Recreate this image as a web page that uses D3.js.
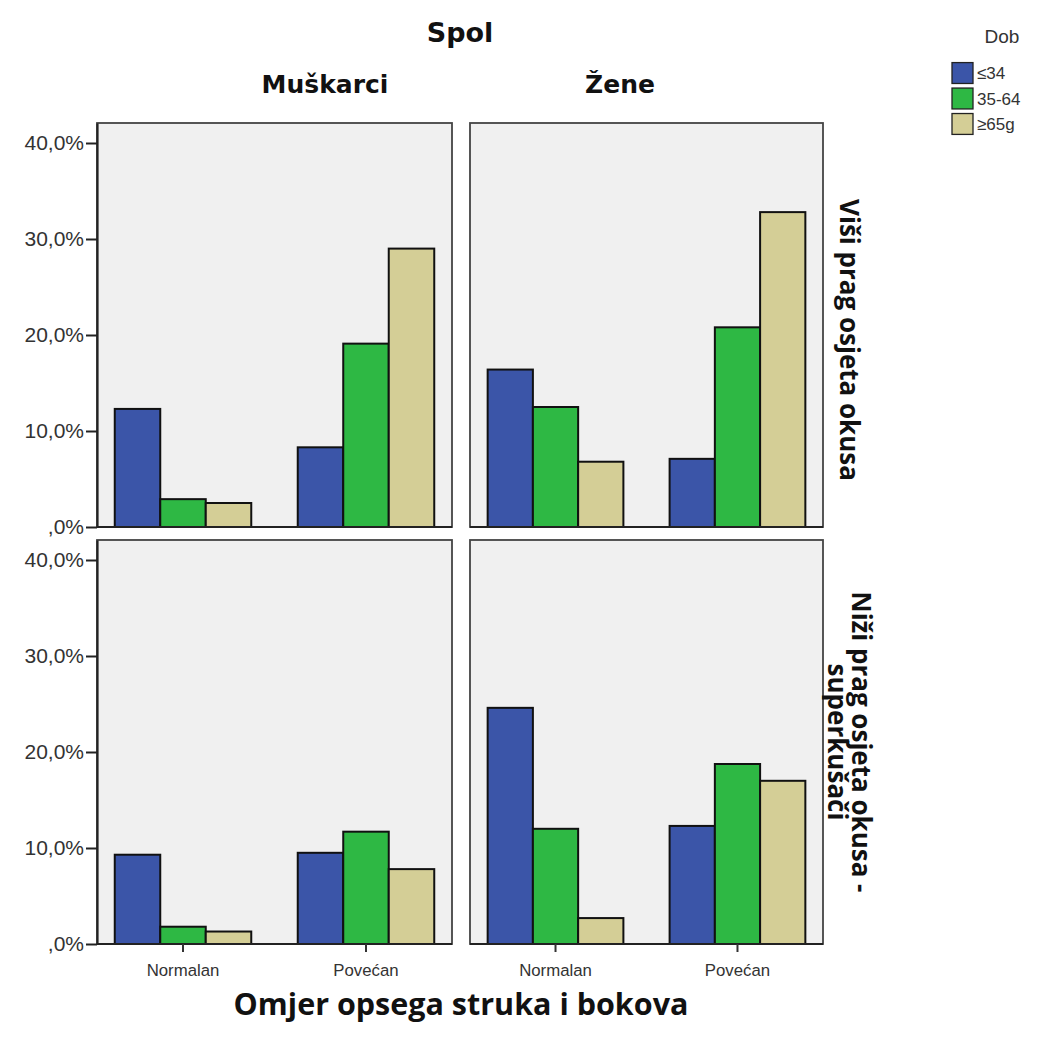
<!DOCTYPE html>
<html>
<head>
<meta charset="utf-8">
<script src="https://cdn.jsdelivr.net/npm/d3@7"></script>
<style>
  html, body { margin: 0; padding: 0; background: #fff; }
  svg { display: block; }
</style>
</head>
<body>
<svg id="chart" width="1045" height="1041"></svg>
<script>
// ---- Data ----
const ageGroups = ["≤34", "35-64", "≥65g"];
const waistCategories = ["Normalan", "Povećan"];
const sexes = ["Muškarci", "Žene"];
const thresholdRows = [["Viši prag osjeta okusa"], ["Niži prag osjeta okusa -", "superkušači"]];
const yTicks = [0, 10, 20, 30, 40];
// values in %, [waist category][age group]
const menHigher   = [[12.3, 2.9, 2.5], [8.3, 19.1, 29.0]];
const womenHigher = [[16.4, 12.5, 6.8], [7.1, 20.8, 32.8]];
const menLower    = [[9.3, 1.8, 1.3], [9.5, 11.7, 7.8]];
const womenLower  = [[24.6, 12.0, 2.7], [12.3, 18.75, 17.0]];
const ageColors = ["#3b55a8", "#2eb844", "#d4ce96"];

const panelValues = [[menHigher, womenHigher], [menLower, womenLower]];

// ---- Layout ----
const svg = d3.select("#chart");
const colX = [97, 470];
const colW = [355, 353];
const rowY = [123, 540];
const rowH = 404;
const pxPerPct = 9.6;

const y = d3.scaleLinear().domain([0, rowH / pxPerPct]).range([rowH, 0]);

const fmt = v => (v === 0 ? "" : String(v)) + ",0%";

svg.append("text").attr("x", 460).attr("y", 42).attr("text-anchor", "middle")
  .attr("font-family", "DejaVu Sans").attr("font-weight", "bold").attr("font-size", 27)
  .attr("fill", "#111").text("Spol");

const headerX = [325, 620];
sexes.forEach((s, c) => {
  svg.append("text").attr("x", headerX[c]).attr("y", 93)
    .attr("text-anchor", "middle")
    .attr("font-family", "DejaVu Sans").attr("font-weight", "bold").attr("font-size", 25)
    .attr("fill", "#111").text(s);
});

for (let r = 0; r < 2; r++) {
  for (let c = 0; c < 2; c++) {
    const g = svg.append("g").attr("transform", `translate(${colX[c]},${rowY[r]})`);
    const w = colW[c];
    const x0 = d3.scaleBand().domain(waistCategories).range([0, w])
      .paddingInner(0.254).paddingOuter(0.097);
    const x1 = d3.scaleBand().domain(ageGroups).range([0, x0.bandwidth()]).padding(0);

    g.append("rect").attr("x", 0).attr("y", 0).attr("width", w).attr("height", rowH)
      .attr("fill", "#f0f0f0").attr("stroke", "#444").attr("stroke-width", 1.8);

    const data = panelValues[r][c];
    waistCategories.forEach((cat, i) => {
      ageGroups.forEach((a, j) => {
        const v = data[i][j];
        g.append("rect")
          .attr("x", x0(cat) + x1(a))
          .attr("y", y(v))
          .attr("width", x1.bandwidth())
          .attr("height", rowH - y(v))
          .attr("fill", ageColors[j])
          .attr("stroke", "#111").attr("stroke-width", 2);
      });
    });

    // bottom baseline
    g.append("line").attr("x1", 0).attr("x2", w).attr("y1", rowH).attr("y2", rowH)
      .attr("stroke", "#222").attr("stroke-width", 2.2);

    if (c === 0) {
      const ax = g.append("g").call(d3.axisLeft(y).tickValues(yTicks).tickFormat(fmt)
        .tickSizeInner(11).tickSizeOuter(0).tickPadding(2));
      ax.select(".domain").attr("stroke", "#222").attr("stroke-width", 2.2);
      ax.selectAll(".tick line").attr("stroke", "#222").attr("stroke-width", 2);
      ax.selectAll(".tick text").attr("font-family", "Liberation Sans, Arial").attr("font-size", 21).attr("fill", "#333");
    }
    if (r === 1) {
      const ax = g.append("g").attr("transform", `translate(0,${rowH})`)
        .call(d3.axisBottom(x0).tickSizeInner(8).tickSizeOuter(0).tickPadding(12));
      ax.select(".domain").remove();
      ax.selectAll(".tick line").attr("stroke", "#333").attr("stroke-width", 2);
      ax.selectAll(".tick text").attr("font-family", "Liberation Sans, Arial").attr("font-size", 16.8).attr("fill", "#333");
    }
  }
}

// Row labels (rotated)
thresholdRows.forEach((lines, r) => {
  const cy = r === 0 ? 340 : rowY[1] + rowH / 2;
  const t = svg.append("text")
    .attr("transform", `translate(849,${cy}) rotate(90)`)
    .attr("text-anchor", "middle")
    .attr("font-family", "Open Sans").attr("font-weight", "bold").attr("font-size", 26)
    .attr("fill", "#111");
  const n = lines.length;
  lines.forEach((ln, k) => {
    t.append("tspan").attr("x", 0)
      .attr("y", (k - (n - 1) / 2) * 24)
      .attr("dy", "0.35em").text(ln);
  });
});

// X axis title
svg.append("text").attr("x", 461).attr("y", 1015).attr("text-anchor", "middle")
  .attr("font-family", "Open Sans").attr("font-weight", "bold").attr("font-size", 30.5)
  .attr("fill", "#111").text("Omjer opsega struka i bokova");

// Legend
const lg = svg.append("g").attr("transform", "translate(951,0)");
lg.append("text").attr("x", 51).attr("y", 43).attr("text-anchor", "middle")
  .attr("font-family", "Liberation Sans, Arial").attr("font-size", 19).attr("fill", "#333").text("Dob");
const ly = d3.scaleBand().domain(ageGroups).range([58, 139]).padding(0.18);
ageGroups.forEach((a, i) => {
  lg.append("rect").attr("x", 1).attr("y", ly(a)).attr("width", 21).attr("height", ly.bandwidth())
    .attr("fill", ageColors[i]).attr("stroke", "#222").attr("stroke-width", 1.3);
  lg.append("text").attr("x", 26).attr("y", ly(a) + ly.bandwidth() / 2).attr("dy", "0.36em")
    .attr("font-family", "Liberation Sans, Arial").attr("font-size", 17).attr("fill", "#333").text(a);
});
</script>
</body>
</html>
